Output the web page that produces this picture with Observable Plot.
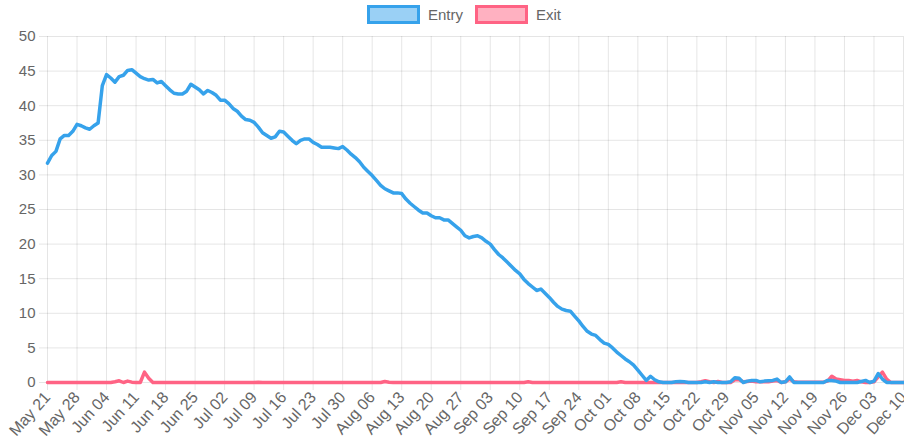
<!DOCTYPE html>
<html>
<head>
<meta charset="utf-8">
<script src="https://cdn.jsdelivr.net/npm/d3@7"></script>
<script src="https://cdn.jsdelivr.net/npm/@observablehq/plot@0.6"></script>
<style>
  html, body { margin: 0; padding: 0; background: #fff; }
  #wrap { width: 904px; font-family: "Liberation Sans", Arial, Helvetica, sans-serif; color: #666; }
  #legend { height: 28px; display: flex; justify-content: center; align-items: center; font-size: 15px; padding-left: 24px; box-sizing: border-box; }
  .item { display: flex; align-items: center; margin: 0 6px; }
  .box { width: 47px; height: 13px; border: 3px solid; margin-right: 8px; }
</style>
</head>
<body>
<div id="wrap">
  <div id="legend"></div>
  <div id="chart"></div>
</div>
<script>
// ---- data ----
const startDate = "2023-05-21";   // first day of the daily series
const seriesNames = ["Entry", "Exit"];
const seriesColors = ["#36a2eb", "#ff6384"];
const seriesFills = ["rgba(54,162,235,0.5)", "rgba(255,99,132,0.5)"];

const entry = [
  31.7, 32.8, 33.4, 35.2, 35.7, 35.7, 36.3, 37.3, 37.1, 36.8,
  36.6, 37.1, 37.5, 42.9, 44.5, 44.0, 43.4, 44.2, 44.4, 45.1,
  45.2, 44.7, 44.2, 43.9, 43.7, 43.8, 43.3, 43.5, 42.9, 42.3,
  41.8, 41.7, 41.7, 42.1, 43.1, 42.7, 42.3, 41.7, 42.2, 41.9,
  41.5, 40.8, 40.8, 40.3, 39.6, 39.2, 38.5, 38.0, 37.9, 37.6,
  36.9, 36.1, 35.7, 35.3, 35.5, 36.3, 36.2, 35.6, 35.0, 34.5,
  35.0, 35.2, 35.2, 34.7, 34.4, 34.0, 34.0, 34.0, 33.9, 33.8,
  34.1, 33.6, 33.0, 32.5, 31.9, 31.1, 30.5, 29.9, 29.2, 28.5,
  28.0, 27.7, 27.4, 27.4, 27.3, 26.5, 25.9, 25.4, 24.9, 24.5,
  24.5, 24.1, 23.8, 23.8, 23.5, 23.5, 23.0, 22.5, 22.0, 21.2,
  20.9, 21.1, 21.2, 20.9, 20.4, 20.0, 19.2, 18.5, 18.0, 17.4,
  16.8, 16.2, 15.7, 14.9, 14.3, 13.8, 13.3, 13.5, 12.9, 12.3,
  11.6, 11.0, 10.6, 10.4, 10.3, 9.6, 8.9, 8.1, 7.4, 7.0,
  6.8, 6.2, 5.7, 5.5, 5.0, 4.4, 3.9, 3.4, 3.0, 2.5,
  1.8, 1.05, 0.3, 0.9, 0.4, 0.1, 0.0, 0.0, 0.0, 0.1,
  0.15, 0.1, 0.0, 0.0, 0.0, 0.0, 0.1, 0.0, 0.1, 0.0,
  0.0, 0.0, 0.1, 0.7, 0.6, 0.0, 0.2, 0.3, 0.3, 0.1,
  0.2, 0.25, 0.3, 0.5, 0.0, 0.1, 0.8, 0.0, 0.0, 0.0,
  0.0, 0.0, 0.0, 0.0, 0.0, 0.3, 0.3, 0.2, 0.0, 0.0,
  0.0, 0.0, 0.0, 0.15, 0.3, 0.0, 0.2, 1.3, 0.5, 0.0,
  0.0, 0.0, 0.0, 0.0
];

const exit = [
  0, 0, 0, 0, 0, 0, 0, 0, 0, 0,
  0, 0, 0, 0, 0, 0, 0.1, 0.25, 0, 0.2,
  0.05, 0, 0, 1.5, 0.6, 0, 0, 0, 0, 0,
  0, 0, 0, 0, 0, 0, 0, 0, 0, 0,
  0, 0, 0, 0, 0, 0, 0, 0, 0, 0,
  0.05, 0, 0, 0, 0, 0, 0, 0, 0, 0,
  0, 0, 0, 0, 0, 0, 0, 0, 0, 0,
  0, 0, 0, 0, 0, 0, 0, 0, 0, 0,
  0.15, 0.05, 0, 0, 0, 0, 0, 0, 0, 0,
  0, 0, 0, 0, 0, 0, 0, 0, 0, 0,
  0, 0, 0, 0, 0, 0, 0, 0, 0, 0,
  0, 0, 0, 0, 0.1, 0, 0, 0, 0, 0,
  0, 0, 0, 0, 0, 0, 0, 0, 0, 0,
  0, 0, 0, 0, 0, 0, 0.1, 0, 0, 0,
  0, 0, 0, 0, 0, 0, 0, 0, 0, 0,
  0, 0, 0, 0, 0, 0.1, 0.25, 0.1, 0, 0.15,
  0, 0, 0, 0.4, 0.4, 0.1, 0.15, 0.2, 0.1, 0.1,
  0.1, 0.1, 0.2, 0.3, 0, 0.1, 0.5, 0.1, 0.05, 0.05,
  0.05, 0.05, 0.05, 0.05, 0.05, 0.2, 0.9, 0.5, 0.4, 0.3,
  0.3, 0.2, 0.3, 0.1, 0, 0, 0.1, 0.8, 1.5, 0.5,
  0, 0, 0, 0
];

const yTicks = [0, 5, 10, 15, 20, 25, 30, 35, 40, 45, 50];
const xTickStepDays = 7;
const xTickFormat = "%b %d";

// ---- build tables ----
const start = new Date(startDate + "T00:00:00Z");
const dates = entry.map((_, i) => d3.utcDay.offset(start, i));
const entryData = entry.map((v, i) => ({date: dates[i], value: v}));
const exitData = exit.map((v, i) => ({date: dates[i], value: v}));
const xTicks = dates.filter((_, i) => i % xTickStepDays === 0);

// ---- legend ----
const legend = document.getElementById("legend");
seriesNames.forEach((name, i) => {
  const item = document.createElement("div");
  item.className = "item";
  const box = document.createElement("span");
  box.className = "box";
  box.style.borderColor = seriesColors[i];
  box.style.background = seriesFills[i];
  const label = document.createElement("span");
  label.textContent = name;
  item.appendChild(box);
  item.appendChild(label);
  legend.appendChild(item);
});

// ---- chart ----
const chart = Plot.plot({
  width: 904,
  height: 420,
  marginTop: 8,
  marginLeft: 47,
  marginRight: 1,
  marginBottom: 66,
  style: {fontFamily: "'Liberation Sans', Arial, Helvetica, sans-serif", fontSize: "15px", color: "#666", background: "#fff", overflow: "visible"},
  x: {type: "utc", domain: [dates[0], dates[dates.length - 1]]},
  y: {domain: [0, 50]},
  marks: [
    Plot.gridX(xTicks, {stroke: "#000", strokeOpacity: 0.1}),
    Plot.gridY(yTicks, {stroke: "#000", strokeOpacity: 0.1}),
    Plot.axisX(xTicks, {tickFormat: xTickFormat, tickRotate: -48, tickSize: 8, tickPadding: 4, fontSize: 16, stroke: "#000", strokeOpacity: 0.1, fill: "#666", label: null}),
    Plot.axisY(yTicks, {tickSize: 8, tickPadding: 4, stroke: "#000", strokeOpacity: 0.1, fill: "#666", label: null}),
    Plot.lineY(exitData, {x: "date", y: "value", stroke: seriesColors[1], strokeWidth: 3.5}),
    Plot.lineY(entryData, {x: "date", y: "value", stroke: seriesColors[0], strokeWidth: 3.5})
  ]
});
document.getElementById("chart").appendChild(chart);
</script>
</body>
</html>
